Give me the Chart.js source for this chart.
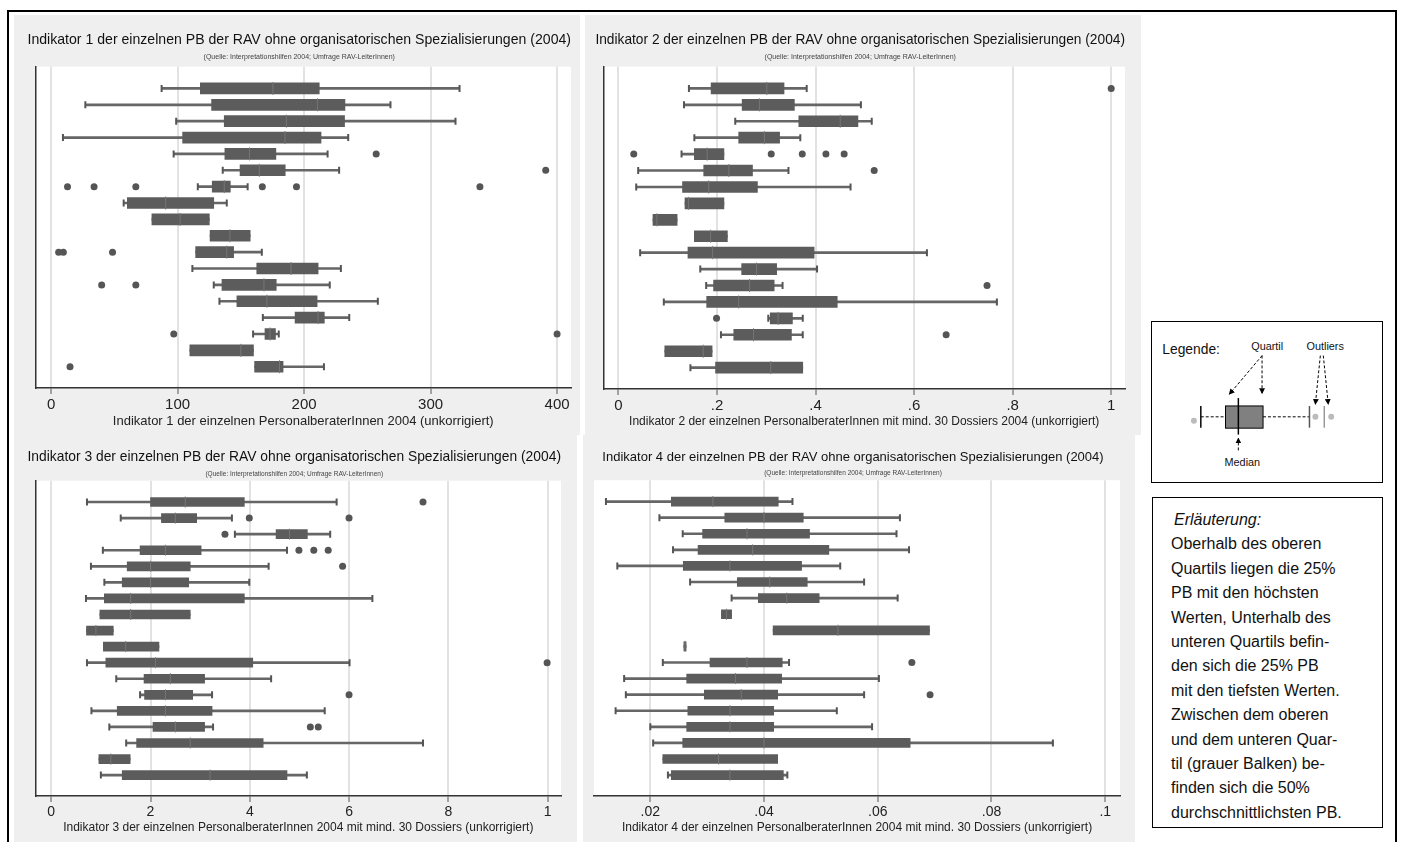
<!DOCTYPE html>
<html>
<head>
<meta charset="utf-8">
<script src="https://cdn.jsdelivr.net/npm/chart.js@4.4.1/dist/chart.umd.min.js"></script>
<style>
body { margin: 0; background: #fff; width: 1402px; height: 842px; overflow: hidden; position: relative; font-family: 'Liberation Sans', Arial, sans-serif; }
.frame { position: absolute; left: 7px; top: 10px; width: 1390px; height: 850px; border: 2px solid #000; box-sizing: border-box; }
canvas.panel { position: absolute; background: #efefef; }
#legendBox { position: absolute; left: 1151px; top: 321px; width: 232px; height: 162px; border: 1.5px solid #000; box-sizing: border-box; }
#noteBox { position: absolute; left: 1152px; top: 497px; width: 231px; height: 331px; border: 1.5px solid #000; box-sizing: border-box; padding: 10px 0 0 18px; font-size: 16px; line-height: 24.4px; color: #111; }
#noteBox i { margin-left: 3px; }
</style>
</head>
<body>
<div class="frame"></div>
<canvas id="chart1" class="panel" width="566" height="420" style="left:14px;top:15px"></canvas>
<canvas id="chart2" class="panel" width="556" height="420" style="left:585px;top:15px"></canvas>
<canvas id="chart3" class="panel" width="563" height="407" style="left:14px;top:435px"></canvas>
<canvas id="chart4" class="panel" width="552" height="407" style="left:583px;top:435px"></canvas>

<svg id="legendBox" viewBox="0 0 232 162">
  <defs>
    <marker id="ah" markerWidth="6" markerHeight="6" refX="5" refY="3" orient="auto">
      <path d="M0,0 L6,3 L0,6 z" fill="#000"/>
    </marker>
  </defs>
  <text x="10" y="32" font-size="14" fill="#111">Legende:</text>
  <text x="100" y="28" font-size="11" fill="#111">Quartil</text>
  <text x="156" y="28" font-size="11" fill="#111">Outliers</text>
  <g stroke="#000" stroke-width="1" stroke-dasharray="3,2" fill="none">
    <line x1="111" y1="34" x2="78" y2="73" marker-end="url(#ah)"/>
    <line x1="111" y1="34" x2="111" y2="72" marker-end="url(#ah)"/>
    <line x1="170" y1="34" x2="165" y2="83" marker-end="url(#ah)"/>
    <line x1="173" y1="34" x2="178" y2="83" marker-end="url(#ah)"/>
    <line x1="87" y1="130" x2="87" y2="118" marker-end="url(#ah)"/>
    <line x1="49" y1="96" x2="74" y2="96"/>
    <line x1="112" y1="96" x2="159" y2="96"/>
  </g>
  <circle cx="42" cy="100" r="3" fill="#bbb"/>
  <line x1="49" y1="85" x2="49" y2="107" stroke="#000" stroke-width="1.5"/>
  <rect x="74" y="85" width="38" height="22.5" fill="#808080" stroke="#000" stroke-width="1"/>
  <line x1="87" y1="77" x2="87" y2="114" stroke="#000" stroke-width="1.5"/>
  <line x1="159" y1="85" x2="159" y2="107" stroke="#555" stroke-width="1.5"/>
  <circle cx="165" cy="96" r="3" fill="#bbb"/>
  <line x1="174" y1="85" x2="174" y2="107" stroke="#999" stroke-width="1.5"/>
  <circle cx="181" cy="96" r="3" fill="#bbb"/>
  <text x="73" y="146" font-size="11" fill="#111">Median</text>
</svg>

<div id="noteBox"><i>Erläuterung:</i><br>Oberhalb des oberen<br>Quartils liegen die 25%<br>PB mit den höchsten<br>Werten, Unterhalb des<br>unteren Quartils befin-<br>den sich die 25% PB<br>mit den tiefsten Werten.<br>Zwischen dem oberen<br>und dem unteren Quar-<br>til (grauer Balken) be-<br>finden sich die 50%<br>durchschnittlichsten PB.</div>

<script>
// Indikator 1 (18 PB groups, top to bottom)
const ind1Lo  = [87.4, 27.1, 98.9, 9.4, 96.9, 135.7, 116, 57.4, 79.7, 125.7, 114.3, 111.7, 128.6, 133.1, 167.4, 159.7, 109.7, 160.9];
const ind1Q1  = [118, 126.9, 136.9, 104, 137.4, 149.4, 127.4, 60.3, 79.7, 125.7, 114.3, 162.6, 135.1, 146.9, 192.9, 169.1, 109.7, 160.9];
const ind1Med = [175.4, 210.6, 186, 184.9, 156.9, 164.6, 136.9, 90.6, 102, 141.4, 138.9, 189.7, 168.3, 170.6, 211.1, 173.1, 150, 180.6];
const ind1Q3  = [212, 232.3, 232, 213.4, 177.7, 185.1, 141.7, 128.6, 125.1, 157.4, 144.3, 211.1, 178, 210.3, 216, 177.4, 160, 183.4];
const ind1Hi  = [322.9, 268.3, 319.7, 234.9, 218.6, 227.7, 155.4, 138.9, 125.1, 157.4, 166.6, 229.1, 220.3, 258.3, 235.7, 180, 160, 215.7];
const ind1Out = [[4, 257], [5, 391], [6, 13], [6, 34], [6, 67], [6, 167], [6, 194], [6, 339], [10, 6], [10, 9.7], [10, 48.6], [12, 40], [12, 67], [15, 97], [15, 400], [17, 15]];
const ind1Ticks = [0, 100, 200, 300, 400];
const ind1TickLabels = ['0', '100', '200', '300', '400'];

// Indikator 2
const ind2Lo  = [.143, .133, .237, .154, .128, .040, .036, .135, .070, .154, .044, .166, .178, .092, .304, .208, .094, .146];
const ind2Q1  = [.188, .251, .366, .244, .154, .173, .130, .135, .070, .154, .141, .250, .193, .179, .308, .234, .094, .197];
const ind2Med = [.301, .286, .450, .296, .180, .224, .183, .142, .078, .187, .191, .280, .266, .244, .324, .274, .172, .309];
const ind2Q3  = [.336, .357, .486, .327, .214, .272, .282, .214, .119, .221, .397, .321, .316, .444, .353, .351, .190, .374];
const ind2Hi  = [.382, .492, .514, .369, .214, .345, .471, .214, .119, .221, .626, .403, .333, .768, .374, .374, .190, .374];
const ind2Out = [[0, 1.0], [4, .031], [4, .31], [4, .373], [4, .421], [4, .458], [5, .519], [12, .748], [14, .199], [15, .665]];
const ind2Ticks = [0, .2, .4, .6, .8, 1];
const ind2TickLabels = ['0', '.2', '.4', '.6', '.8', '1'];

// Indikator 3
const ind3Lo  = [.72, 1.40, 3.70, 1.04, .80, 1.07, .70, .98, .71, 1.05, .72, 1.31, 1.79, .81, 1.17, 1.51, .96, 1.00];
const ind3Q1  = [2.00, 2.22, 4.53, 1.79, 1.53, 1.43, 1.07, .98, .71, 1.05, 1.10, 1.87, 1.88, 1.33, 2.05, 1.72, .96, 1.43];
const ind3Med = [2.7, 2.5, 4.8, 2.3, 2.0, 2.0, 1.6, 1.6, .9, 1.5, 2.1, 2.4, 2.3, 2.3, 2.5, 2.8, 1.2, 3.2];
const ind3Q3  = [3.89, 2.93, 5.16, 3.02, 2.80, 2.77, 3.89, 2.80, 1.25, 2.17, 4.06, 3.09, 2.85, 3.24, 3.09, 4.27, 1.59, 4.75];
const ind3Hi  = [5.75, 3.64, 5.62, 4.75, 4.38, 3.99, 6.47, 2.80, 1.25, 2.17, 6.01, 4.43, 3.24, 5.51, 3.26, 7.49, 1.59, 5.15];
const ind3Out = [[0, 7.49], [1, 3.99], [1, 6.0], [2, 3.5], [3, 4.99], [3, 5.29], [3, 5.58], [4, 5.87], [10, 9.99], [12, 6.0], [14, 5.22], [14, 5.38]];
const ind3Ticks = [0, 2, 4, 6, 8, 10];
const ind3TickLabels = ['0', '2', '4', '6', '8', '1'];

// Indikator 4
const ind4Lo  = [.0122, .0216, .0257, .0240, .0142, .0270, .0343, .0325, .0416, .0259, .0222, .0154, .0157, .0139, .0200, .0205, .0222, .0231];
const ind4Q1  = [.0237, .0331, .0292, .0284, .0258, .0353, .0390, .0325, .0416, .0259, .0305, .0264, .0295, .0266, .0264, .0257, .0222, .0237];
const ind4Med = [.031, .040, .037, .038, .034, .041, .044, .0334, .053, .0261, .037, .035, .036, .034, .034, .040, .032, .034];
const ind4Q3  = [.0425, .0469, .0480, .0514, .0466, .0476, .0497, .0343, .0691, .0263, .0432, .0431, .0424, .0417, .0417, .0657, .0424, .0434];
const ind4Hi  = [.0450, .0639, .0633, .0655, .0534, .0576, .0635, .0343, .0691, .0263, .0444, .0602, .0576, .0528, .0590, .0908, .0424, .0441];
const ind4Out = [[10, .066], [12, .0692]];
const ind4Ticks = [.02, .04, .06, .08, .1];
const ind4TickLabels = ['.02', '.04', '.06', '.08', '.1'];

const source = '(Quelle: Interpretationshilfen 2004; Umfrage RAV-LeiterInnen)';

Chart.defaults.font.family = "'Liberation Sans', Arial, sans-serif";
Chart.defaults.color = '#222';

// white plot area on the grey panel
const whiteArea = {
    id: 'whiteArea',
    beforeDraw(chart) {
        const { ctx, chartArea: a } = chart;
        ctx.save();
        ctx.fillStyle = '#fff';
        ctx.fillRect(a.left, a.top, a.right - a.left, a.bottom - a.top);
        ctx.restore();
    }
};

function createBoxChart(canvasId, d, o) {
    const rows = d.q1.map((v, i) => i);
    const caps = [];
    rows.forEach(i => {
        if (d.lo[i] < d.q1[i]) caps.push({ x: d.lo[i], y: i });
        if (d.hi[i] > d.q3[i]) caps.push({ x: d.hi[i], y: i });
    });

    return new Chart(document.getElementById(canvasId), {
        type: 'bar',
        data: {
            datasets: [
                { type: 'scatter', data: d.out.map(p => ({ x: p[1], y: p[0] })),
                  pointRadius: 3.5, pointBackgroundColor: '#555', pointBorderWidth: 0, order: 0 },
                { type: 'scatter', data: rows.map(i => ({ x: d.med[i], y: i })),
                  pointStyle: 'line', pointRotation: 90, pointRadius: o.box / 2 + 1,
                  pointBorderColor: '#767676', pointBorderWidth: 1, order: 1 },
                { type: 'bar', indexAxis: 'y', grouped: false, data: rows.map(i => ({ y: i, x: [d.q1[i], d.q3[i]] })),
                  backgroundColor: '#5c5c5c', barThickness: o.box, maxBarThickness: o.box, order: 2 },
                { type: 'scatter', data: caps,
                  pointStyle: 'line', pointRotation: 90, pointRadius: 3.5,
                  pointBorderColor: '#555', pointBorderWidth: 2, order: 3 },
                { type: 'bar', indexAxis: 'y', grouped: false, data: rows.map(i => ({ y: i, x: [d.lo[i], d.hi[i]] })),
                  backgroundColor: '#666', barThickness: 2, maxBarThickness: 2, order: 4 }
            ]
        },
        options: {
            responsive: false,
            animation: false,
            events: [],
            layout: { padding: o.padding },
            scales: {
                x: {
                    type: 'linear', min: o.min, max: o.max, offset: false,
                    afterBuildTicks: s => { s.ticks = o.ticks.map(v => ({ value: v })); },
                    ticks: { callback: (v, i) => o.labels[i], autoSkip: false, maxRotation: 0,
                             font: { size: o.tickSize, lineHeight: 1 }, color: '#222', padding: 3 },
                    grid: { offset: false, color: '#e2e2e2', lineWidth: 2, tickLength: 6, tickColor: '#555', tickWidth: 1 },
                    border: { display: true, color: '#333', width: 1.5 },
                    title: { display: true, text: o.xTitle, color: '#222',
                             font: { size: o.xTitleSize, lineHeight: 1 }, padding: { top: 0, bottom: 0 } }
                },
                y: {
                    type: 'linear', min: -1.33, max: 18.3, reverse: true, offset: false,
                    ticks: { display: false },
                    grid: { display: false, offset: false },
                    border: { display: o.yBorder, color: '#333', width: 1.5 }
                }
            },
            plugins: {
                legend: { display: false },
                tooltip: { enabled: false },
                title: { display: true, text: o.title, color: '#111',
                         font: { size: o.titleSize, weight: 'normal', lineHeight: 1.2 },
                         padding: { top: o.titlePad, bottom: 0 } },
                subtitle: { display: true, text: source, color: '#444',
                            font: { size: o.subSize, lineHeight: 1.2 },
                            padding: { top: o.subPad[0], bottom: o.subPad[1] } }
            }
        },
        plugins: [whiteArea]
    });
}

createBoxChart('chart1',
    { lo: ind1Lo, q1: ind1Q1, med: ind1Med, q3: ind1Q3, hi: ind1Hi, out: ind1Out },
    { min: -12.3, max: 411, ticks: ind1Ticks, labels: ind1TickLabels,
      title: 'Indikator 1 der einzelnen PB der RAV ohne organisatorischen Spezialisierungen (2004)',
      xTitle: 'Indikator 1 der einzelnen PersonalberaterInnen 2004 (unkorrigiert)', xTitleSize: 13, tickSize: 15,
      titleSize: 14.4, titlePad: 16, subSize: 7, subPad: [5, 5], box: 11, yBorder: true,
      padding: { left: 13.5, right: 9, bottom: 7, top: 0 } });

createBoxChart('chart2',
    { lo: ind2Lo, q1: ind2Q1, med: ind2Med, q3: ind2Q3, hi: ind2Hi, out: ind2Out },
    { min: -0.0306, max: 1.028, ticks: ind2Ticks, labels: ind2TickLabels,
      title: 'Indikator 2 der einzelnen PB der RAV ohne organisatorischen Spezialisierungen (2004)',
      xTitle: 'Indikator 2 der einzelnen PersonalberaterInnen mit mind. 30 Dossiers 2004 (unkorrigiert)', xTitleSize: 12, tickSize: 15,
      titleSize: 14.3, titlePad: 16, subSize: 7, subPad: [5, 5], box: 11, yBorder: true,
      padding: { left: 10.4, right: 16, bottom: 7, top: 0 } });

createBoxChart('chart3',
    { lo: ind3Lo, q1: ind3Q1, med: ind3Med, q3: ind3Q3, hi: ind3Hi, out: ind3Out },
    { min: -0.317, max: 10.27, ticks: ind3Ticks, labels: ind3TickLabels,
      title: 'Indikator 3 der einzelnen PB der RAV ohne organisatorischen Spezialisierungen (2004)',
      xTitle: 'Indikator 3 der einzelnen PersonalberaterInnen 2004 mit mind. 30 Dossiers (unkorrigiert)', xTitleSize: 12, tickSize: 14,
      titleSize: 14.4, titlePad: 13.6, subSize: 6.5, subPad: [4, 3], box: 9, yBorder: true,
      padding: { left: 13.5, right: 16, bottom: 8, top: 0 } });

createBoxChart('chart4',
    { lo: ind4Lo, q1: ind4Q1, med: ind4Med, q3: ind4Q3, hi: ind4Hi, out: ind4Out },
    { min: 0.0101, max: 0.1026, ticks: ind4Ticks, labels: ind4TickLabels,
      title: 'Indikator 4 der einzelnen PB der RAV ohne organisatorischen Spezialisierungen (2004)',
      xTitle: 'Indikator 4 der einzelnen PersonalberaterInnen 2004 mit mind. 30 Dossiers (unkorrigiert)', xTitleSize: 12, tickSize: 14,
      titleSize: 13, titlePad: 14.2, subSize: 6.5, subPad: [4.6, 3], box: 9, yBorder: false,
      padding: { left: 3, right: 15, bottom: 8, top: 0 } });
</script>
</body>
</html>
